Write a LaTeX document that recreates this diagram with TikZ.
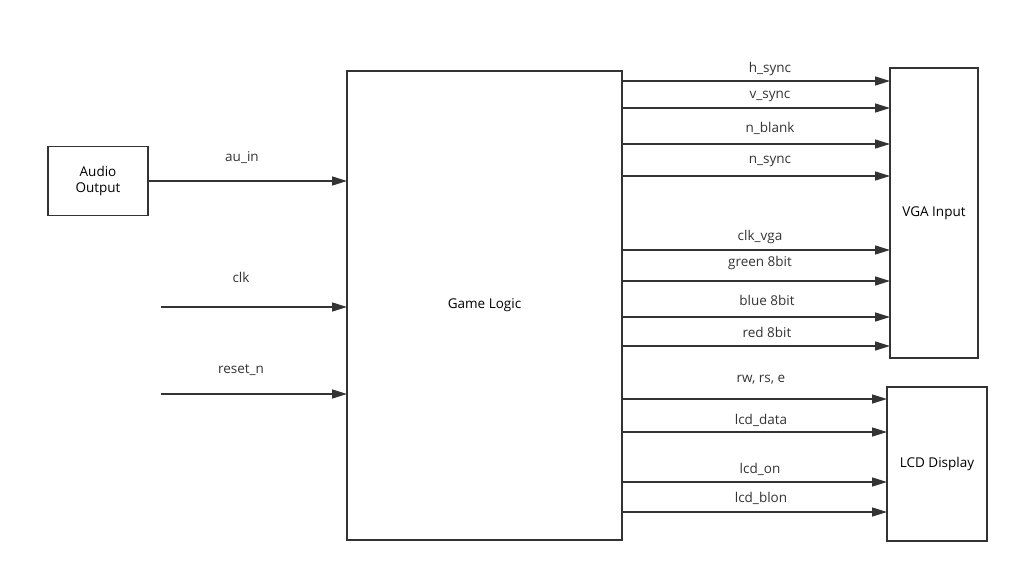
\documentclass[tikz,border=0pt]{standalone}
\usepackage{fontspec}
\setmainfont{Open Sans}
\usetikzlibrary{arrows.meta}
\definecolor{ink}{HTML}{333333}
\tikzset{
  blk/.style={draw=ink,line width=1.5pt,inner sep=0pt,outer sep=0pt,align=center},
  sig/.style={draw=ink,line width=1.5pt,-{Triangle[length=15pt,width=9pt]}},
  lbl/.style={text=ink,inner sep=0pt}
}
\begin{document}
\begin{tikzpicture}[x=1pt,y=-1pt,font=\fontsize{13.5}{16.5}\selectfont]
        \useasboundingbox (0,0) rectangle (1019,573);

        \node[blk,minimum width=100pt,minimum height=69pt] (au)  at (98,181)  {Audio\\Output};
        \node[blk,minimum width=275pt,minimum height=469pt] (gl)  at (484.5,305.5) {Game Logic};
        \node[blk,minimum width=88pt,minimum height=290pt] (vga) at (934,213)  {VGA Input};
        \node[blk,minimum width=100pt,minimum height=154pt] (lcd) at (937,464)  {LCD Display};

        \coordinate (clk) at (161,307);
        \coordinate (rst) at (161,394);

        \node[lbl] (lau)   at (242,158) {au\_in};
        \node[lbl] (lclk)  at (241,277) {clk};
        \node[lbl] (lrst)  at (241,370) {reset\_n};

        \node[lbl] (lhs)   at (770,69)  {h\_sync};
        \node[lbl] (lvs)   at (770,96)  {v\_sync};
        \node[lbl] (lnb)   at (770,128) {n\_blank};
        \node[lbl] (lns)   at (770,161) {n\_sync};
        \node[lbl] (lcv)   at (760,237) {clk\_vga};
        \node[lbl] (lgr)   at (760,263) {green 8bit};
        \node[lbl] (lbl)   at (767,300) {blue 8bit};
        \node[lbl] (lrd)   at (767,332) {red 8bit};
        \node[lbl] (lrw)   at (761,380) {rw, rs, e};
        \node[lbl] (lld)   at (761,420) {lcd\_data};
        \node[lbl] (llo)   at (760,469) {lcd\_on};
        \node[lbl] (llb)   at (761,498) {lcd\_blon};

        \coordinate (yhs) at (0,81);
        \coordinate (yvs) at (0,108);
        \coordinate (ynb) at (0,144);
        \coordinate (yns) at (0,176);
        \coordinate (ycv) at (0,250);
        \coordinate (ygr) at (0,281);
        \coordinate (ybl) at (0,317);
        \coordinate (yrd) at (0,346);
        \coordinate (yrw) at (0,399);
        \coordinate (yld) at (0,432);
        \coordinate (ylo) at (0,482);
        \coordinate (ylb) at (0,512);

        \draw [sig] (au.east) -- (gl.west |- au.east);
        \draw [sig] (clk) -- (gl.west |- clk);
        \draw [sig] (rst) -- (gl.west |- rst);

        \draw [sig] (gl.east |- yhs) -- (vga.west |- yhs);
        \draw [sig] (gl.east |- yvs) -- (vga.west |- yvs);
        \draw [sig] (gl.east |- ynb) -- (vga.west |- ynb);
        \draw [sig] (gl.east |- yns) -- (vga.west |- yns);
        \draw [sig] (gl.east |- ycv) -- (vga.west |- ycv);
        \draw [sig] (gl.east |- ygr) -- (vga.west |- ygr);
        \draw [sig] (gl.east |- ybl) -- (vga.west |- ybl);
        \draw [sig] (gl.east |- yrd) -- (vga.west |- yrd);

        \draw [sig] (gl.east |- yrw) -- (lcd.west |- yrw);
        \draw [sig] (gl.east |- yld) -- (lcd.west |- yld);
        \draw [sig] (gl.east |- ylo) -- (lcd.west |- ylo);
        \draw [sig] (gl.east |- ylb) -- (lcd.west |- ylb);
    \end{tikzpicture}
\end{document}
